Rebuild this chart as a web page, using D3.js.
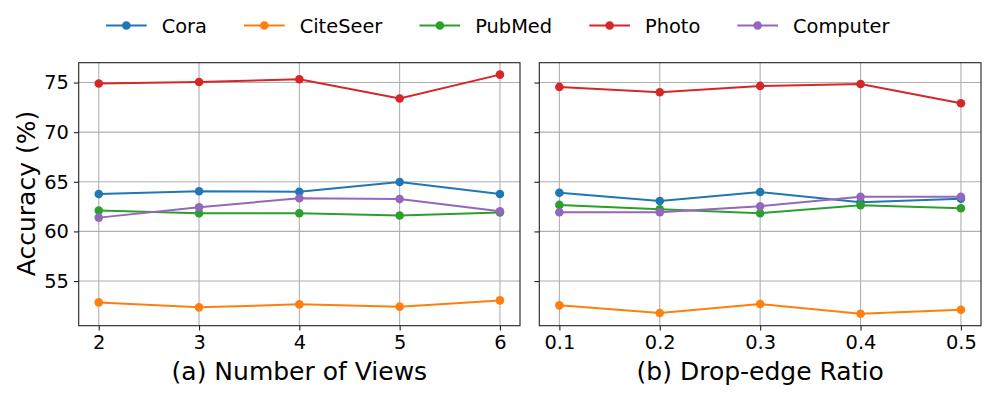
<!DOCTYPE html>
<meta charset="utf-8">
<style>
    body { margin: 0; background: #fff; }
    text { font-family: "DejaVu Sans", sans-serif; fill: #000; }
    .grid line { stroke: #b0b0b0; stroke-width: 1.1; }
    .frame { fill: none; stroke: #222; stroke-width: 1.1; }
    .line { fill: none; stroke-width: 2; }
</style>
<body></body>
<script src="https://d3js.org/d3.v7.min.js"></script>
<script>
    // series names, legend order
    var datasets = ["Cora", "CiteSeer", "PubMed", "Photo", "Computer"];
    var colors = ["#1f77b4", "#ff7f0e", "#2ca02c", "#d62728", "#9467bd"];

    // (a) number of views
    var views = [2, 3, 4, 5, 6];
    var viewsCora = [63.77, 64.04, 64.0, 64.98, 63.77];
    var viewsCiteSeer = [52.85, 52.35, 52.65, 52.42, 53.05];
    var viewsPubMed = [62.1, 61.83, 61.83, 61.6, 61.9];
    var viewsPhoto = [74.9, 75.06, 75.33, 73.39, 75.8];
    var viewsComputer = [61.39, 62.44, 63.34, 63.27, 62.03];

    // (b) drop-edge ratio
    var ratios = [0.1, 0.2, 0.3, 0.4, 0.5];
    var ratioLabels = ["0.1", "0.2", "0.3", "0.4", "0.5"];
    var dropCora = [63.9, 63.07, 63.97, 62.94, 63.3];
    var dropCiteSeer = [52.55, 51.78, 52.68, 51.71, 52.11];
    var dropPubMed = [62.67, 62.23, 61.83, 62.64, 62.34];
    var dropPhoto = [74.56, 74.03, 74.66, 74.86, 72.92];
    var dropComputer = [61.93, 61.93, 62.54, 63.5, 63.5];

    var yTicks = [55, 60, 65, 70, 75];

    var width = 996, height = 399;
    var plotTop = 62.7, plotBottom = 325.7;

    var svg = d3.select("body").append("svg")
        .attr("width", width)
        .attr("height", height);

    var y = d3.scaleLinear().domain([50.5, 77]).range([plotBottom, plotTop]);

    var panels = [
        { x: views, labels: views.map(String), domain: [1.8, 6.2], range: [78.7, 520],
          series: [viewsCora, viewsCiteSeer, viewsPubMed, viewsPhoto, viewsComputer],
          title: "(a) Number of Views", yLabels: true },
        { x: ratios, labels: ratioLabels, domain: [0.08, 0.52], range: [539.3, 981],
          series: [dropCora, dropCiteSeer, dropPubMed, dropPhoto, dropComputer],
          title: "(b) Drop-edge Ratio", yLabels: false }
    ];

    panels.forEach(function (p) {
        var x = d3.scaleLinear().domain(p.domain).range(p.range);
        var g = svg.append("g");

        // grid
        var grid = g.append("g").attr("class", "grid");
        grid.selectAll(".gx").data(p.x).enter().append("line")
            .attr("x1", d => x(d)).attr("x2", d => x(d))
            .attr("y1", plotTop).attr("y2", plotBottom);
        grid.selectAll(".gy").data(yTicks).enter().append("line")
            .attr("x1", p.range[0]).attr("x2", p.range[1])
            .attr("y1", d => y(d)).attr("y2", d => y(d));

        // x axis
        var xAxis = g.append("g")
            .attr("transform", "translate(0," + plotBottom + ")")
            .call(d3.axisBottom(x).tickValues(p.x)
                .tickFormat((d, i) => p.labels[i]).tickSize(4.9).tickPadding(4.9));
        // y axis
        var yAxis = g.append("g")
            .attr("transform", "translate(" + p.range[0] + ",0)")
            .call(d3.axisLeft(y).tickValues(yTicks)
                .tickFormat(p.yLabels ? d3.format("d") : "").tickSize(4.9).tickPadding(4.9));
        [xAxis, yAxis].forEach(function (a) {
            a.attr("font-size", null).attr("font-family", null);
            a.select(".domain").remove();
            a.selectAll(".tick line").attr("stroke", "#222").attr("stroke-width", 1.1);
            a.selectAll(".tick text").style("font-size", "19.4px").attr("fill", "#000");
        });

        // series
        p.series.forEach(function (vals, k) {
            var pts = vals.map((v, i) => [p.x[i], v]);
            var line = d3.line().x(d => x(d[0])).y(d => y(d[1]));
            g.append("path").datum(pts)
                .attr("class", "line")
                .attr("stroke", colors[k])
                .attr("d", line);
            g.selectAll(".pt" + k).data(pts).enter().append("circle")
                .attr("cx", d => x(d[0])).attr("cy", d => y(d[1]))
                .attr("r", 4.3).attr("fill", colors[k]);
        });

        g.append("rect").attr("class", "frame")
            .attr("x", p.range[0]).attr("y", plotTop)
            .attr("width", p.range[1] - p.range[0]).attr("height", plotBottom - plotTop);

        g.append("text")
            .attr("x", (p.range[0] + p.range[1]) / 2)
            .attr("y", 379.5)
            .attr("text-anchor", "middle")
            .style("font-size", "25px")
            .text(p.title);
    });

    svg.append("text")
        .attr("transform", "translate(35,193.5) rotate(-90)")
        .attr("text-anchor", "middle")
        .style("font-size", "25px")
        .text("Accuracy (%)");

    // legend
    var legendX = [106, 244, 419.5, 589.3, 737.3];
    var legend = svg.append("g");
    datasets.forEach(function (name, k) {
        var lg = legend.append("g").attr("transform", "translate(" + legendX[k] + ",25.5)");
        lg.append("line").attr("x1", 0).attr("x2", 40.7)
            .attr("stroke", colors[k]).attr("stroke-width", 2);
        lg.append("circle").attr("cx", 20.35).attr("r", 4.3).attr("fill", colors[k]);
        lg.append("text").attr("x", 55.7).attr("y", 7)
            .style("font-size", "19.4px").text(name);
    });
</script>
